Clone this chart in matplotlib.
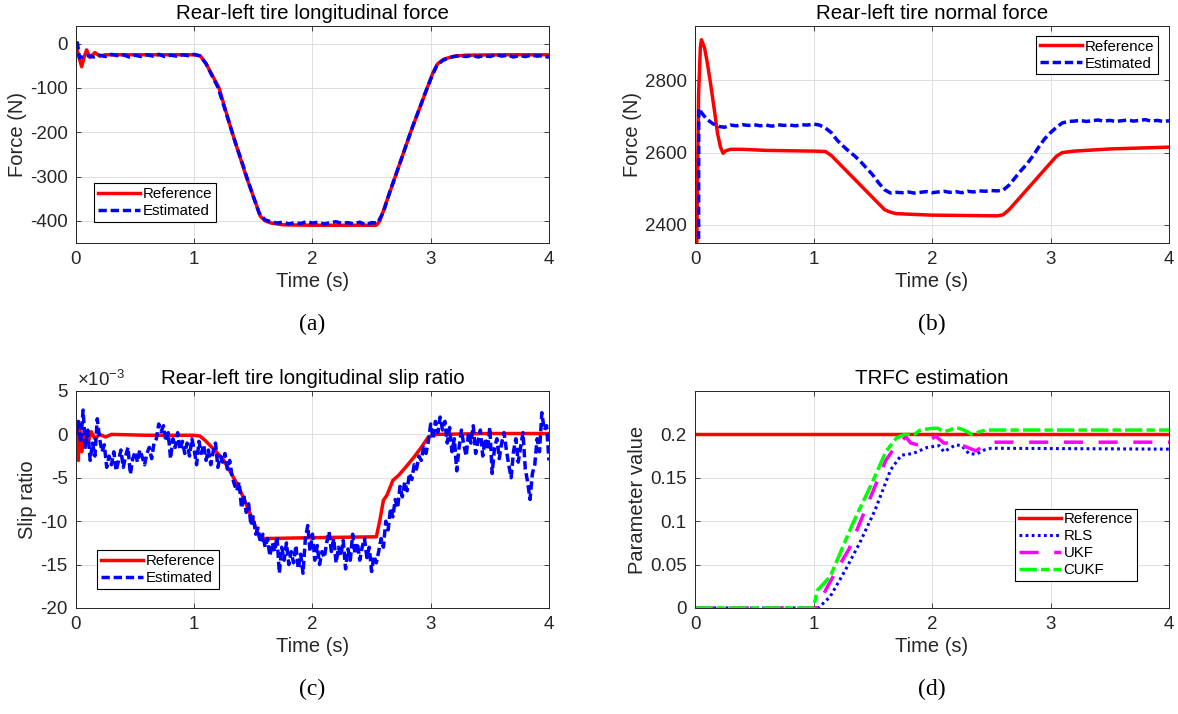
import matplotlib.pyplot as plt
import matplotlib.ticker as ticker
import numpy as np

plt.rcParams['font.family'] = ['Liberation Sans', 'DejaVu Sans']
plt.rcParams['axes.unicode_minus'] = False
plt.rcParams['mathtext.fontset'] = 'custom'
plt.rcParams['mathtext.rm'] = 'Liberation Sans'
plt.rcParams['mathtext.it'] = 'Liberation Sans:italic'

### (a) rear-left longitudinal force (N) ###
fx_ref_t = [0, 0.02, 0.048, 0.07, 0.09, 0.118, 0.16, 0.2, 0.25, 0.5, 0.8, 1.0, 1.05,
            1.1, 1.15, 1.21, 1.32, 1.44, 1.56, 1.6, 1.65, 1.75, 2.0, 2.3, 2.54, 2.57,
            2.7, 2.83, 2.97, 3.02, 3.06, 3.11, 3.2, 3.3, 3.6, 4.0]
fx_ref = [0, -25, -52, -30, -14, -31, -20, -28, -25, -25, -25, -25, -27,
          -45, -70, -100, -200, -300, -390, -400, -405, -409, -410, -410, -410, -400,
          -300, -200, -100, -65, -45, -35, -28, -26, -25, -25]

fx_est_t = [0, 0.012, 0.03] + list(np.round(np.arange(0.05, 4.001, 0.05), 2))
fx_est = [0, 2, -32,
          -30, -27, -30, -26, -29, -24, -27, -25, -30, -26,
          -29, -25, -28, -24, -29, -26, -28, -25, -27, -24,
          -28, -45, -72, -98, -140, -182, -225, -264, -306, -345,
          -383, -398, -402, -405, -403, -407, -404, -406, -402, -405,
          -403, -407, -404, -402, -406, -404, -407, -403, -409, -404,
          -405, -380, -338, -300, -262, -223, -185, -150, -114, -80,
          -50, -38, -32, -29, -27, -29, -26, -30, -27, -29,
          -25, -28, -26, -30, -27, -29, -26, -28, -27, -31]

### (b) rear-left normal force (N) ###
fz_ref_t = [0, 0.015, 0.03, 0.045, 0.054, 0.08, 0.1, 0.127, 0.16, 0.19, 0.215, 0.237,
            0.26, 0.3, 0.4, 0.6, 1.0, 1.1, 1.15, 1.6, 1.65, 1.7, 2.0, 2.55, 2.6,
            2.65, 3.05, 3.1, 3.2, 3.5, 4.0]
fz_ref = [2000, 2350, 2760, 2890, 2912, 2890, 2855, 2800, 2725, 2653, 2615, 2598,
          2605, 2609, 2609, 2606, 2604, 2603, 2592, 2442, 2435, 2431, 2427, 2425, 2428,
          2442, 2590, 2600, 2604, 2610, 2615]

fz_est_t = [0, 0.028, 0.032, 0.06, 0.1, 0.15] + list(np.round(np.arange(0.2, 4.001, 0.05), 2))
fz_est = [2000, 2000, 2722, 2708, 2692, 2680,
          2672, 2670, 2676, 2674, 2677, 2675, 2677, 2674, 2676, 2673,
          2677, 2675, 2676, 2674, 2677, 2676, 2679, 2676, 2668, 2655,
          2634, 2618, 2603, 2590, 2574, 2556, 2538, 2516, 2497, 2488,
          2490, 2489, 2491, 2488, 2490, 2492, 2489, 2491, 2493, 2490,
          2492, 2489, 2493, 2491, 2494, 2493, 2495, 2494, 2496, 2510,
          2530, 2550, 2568, 2590, 2615, 2638, 2655, 2670, 2682, 2686,
          2687, 2689, 2686, 2688, 2690, 2687, 2689, 2686, 2688, 2690,
          2687, 2689, 2691, 2687, 2689, 2686, 2688]

### (c) rear-left longitudinal slip ratio (x1e-3) ###
sr_ref_t = [0, 0.01, 0.02, 0.03, 0.05, 0.07, 0.1, 0.13, 0.16, 0.2, 0.25, 0.3, 0.6,
            1.0, 1.05, 1.1, 1.15, 1.2, 1.25, 1.3, 1.35, 1.4, 1.45, 1.5, 1.55, 1.6,
            2.0, 2.54, 2.57, 2.6, 2.63, 2.68, 2.73, 2.79, 2.86, 2.92, 2.98, 3.05,
            3.5, 4.0]
sr_ref = [0, -2.5, -3.0, 1.0, -2.0, 0.5, -1.0, 0.3, -0.5, 0.0, -0.3, 0.0, -0.1,
          -0.1, -0.2, -0.8, -1.5, -2.2, -3.0, -4.2, -5.4, -6.8, -8.4, -10.0, -11.8, -12.0,
          -11.9, -11.8, -9.9, -7.6, -7.0, -5.3, -4.7, -3.75, -2.6, -1.5, -0.3, 0.0,
          0.1, 0.1]

sr_est_t = np.linspace(0, 4, 201)
sr_est = [0.0, 1.5, -1.0, 2.8, -1.5, 0.5, -3.0, -1.0, -2.5, 1.8,
          -0.5, -2.0, -1.2, -3.8, -2.5, -3.5, -2.0, -4.2, -3.0, -1.8,
          -3.8, -2.5, -1.5, -4.6, -2.8, -2.0, -3.2, -1.8, -2.6, -3.5,
          -2.2, -1.5, -2.8, -1.0, -0.5, 1.2, 0.3, 1.0, -0.8, 0.2,
          -2.8, -0.5, -1.5, 0.2, -1.8, -0.8, -2.2, -1.0, -2.5, -0.5,
          -1.8, -3.5, -0.8, -2.2, -1.2, -3.0, -1.8, -3.5, -2.0, -1.0,
          -3.8, -2.5, -3.2, -2.2, -4.0, -3.0, -4.8, -5.8, -6.5, -5.5,
          -8.5, -7.0, -9.0, -8.0, -10.5, -9.5, -11.5, -10.8, -12.5, -11.5,
          -13.0, -12.0, -14.0, -12.5, -13.5, -11.8, -16.0, -13.0, -14.5, -12.5,
          -15.0, -13.5, -14.8, -12.8, -15.5, -13.8, -16.0, -12.0, -10.5, -13.5,
          -11.5, -14.5, -12.8, -15.0, -13.5, -14.2, -12.5, -11.2, -13.5, -12.0,
          -14.8, -13.0, -14.0, -12.2, -15.5, -13.2, -14.5, -11.5, -13.8, -12.5,
          -14.5, -13.0, -12.0, -14.2, -13.0, -15.8, -14.0, -14.8, -13.5, -12.0,
          -13.0, -10.0, -11.0, -8.5, -9.5, -7.5, -8.5, -6.0, -7.2, -5.5,
          -6.5, -4.5, -5.2, -3.5, -4.0, -2.5, -3.0, -1.5, -2.2, -0.8,
          1.2, -0.5, 1.5, 0.2, 2.0, 0.5, 1.5, -1.0, 0.8, -2.0,
          -0.5, -4.2, -1.5, 0.5, -1.2, -2.5, 0.2, -1.0, 1.0, -2.2,
          -0.8, 0.5, -2.5, -0.5, -1.8, 0.8, -4.5, -1.5, -0.5, -2.8,
          -1.0, 0.2, -1.8, -3.5, -5.0, -2.0, -0.5, -3.2, -1.5, 0.2,
          -4.0, -5.5, -7.5, -4.5, -3.5, -0.5, -2.0, 2.5, 0.5, 1.0,
          -3.0]

### (d) TRFC estimation ###
mu_ref_t = [0, 4]
mu_ref = [0.2, 0.2]
rls_t = [0, 1.04, 1.14, 1.27, 1.39, 1.52, 1.65, 1.74, 1.84, 1.96, 2.06, 2.1, 2.2,
         2.25, 2.31, 2.37, 2.44, 2.5, 4.0]
rls = [0, 0, 0.013, 0.044, 0.075, 0.113, 0.159, 0.176, 0.178, 0.185, 0.187, 0.18, 0.188,
       0.187, 0.178, 0.177, 0.182, 0.184, 0.183]
ukf_t = [0, 1.03, 1.1, 1.2, 1.3, 1.47, 1.61, 1.7, 1.78, 1.82, 1.88, 1.95, 2.03, 2.1,
         2.2, 2.3, 2.37, 2.45, 2.5, 4.0]
ukf = [0, 0, 0.02, 0.045, 0.068, 0.124, 0.17, 0.188, 0.197, 0.19, 0.188, 0.19, 0.198, 0.19,
       0.19, 0.185, 0.181, 0.188, 0.191, 0.191]
cukf_t = [0, 1.0, 1.03, 1.14, 1.33, 1.49, 1.61, 1.7, 1.77, 1.85, 1.9, 2.0, 2.05, 2.1,
          2.15, 2.2, 2.25, 2.3, 2.33, 2.4, 2.45, 4.0]
cukf = [0, 0, 0.02, 0.036, 0.097, 0.143, 0.18, 0.196, 0.2, 0.2, 0.205, 0.207, 0.207, 0.203,
        0.205, 0.208, 0.206, 0.203, 0.2, 0.203, 0.205, 0.205]

frame = '#262626'
gridc = '#dfdfdf'


def style(ax, title, ylabel):
    ax.set_xlim(0, 4)
    ax.set_xticks([0, 1, 2, 3, 4])
    ax.grid(True, color=gridc, linewidth=0.7)
    ax.set_axisbelow(True)
    ax.tick_params(direction='in', length=3.5, width=0.6, top=True, right=True,
                   labelsize=13.5, colors=frame, pad=6)
    for s in ax.spines.values():
        s.set_color(frame)
        s.set_linewidth(0.7)
    ax.set_title(title, fontsize=14.8, color='black', pad=5)
    ax.set_xlabel('Time (s)', fontsize=14.5, color=frame, labelpad=3)
    ax.set_ylabel(ylabel, fontsize=14.5, color=frame, labelpad=2)


def legend(ax, loc, anchor):
    leg = ax.legend(loc=loc, bbox_to_anchor=anchor, fontsize=10.8, handlelength=2.8,
                    handletextpad=0.2, borderpad=0.25, labelspacing=0.2,
                    borderaxespad=0, fancybox=False, framealpha=1, edgecolor='black')
    leg.get_frame().set_linewidth(0.8)


fig = plt.figure(figsize=(11.78, 7.14), dpi=100)

### (a) ###
ax1 = fig.add_axes([0.0645, 0.6597, 0.4015, 0.3039])
ax1.plot(fx_ref_t, fx_ref, color='red', linewidth=2.5, label='Reference')
ax1.plot(fx_est_t, fx_est, color='blue', linewidth=2.5, dashes=(2.4, 1.1), label='Estimated')
ax1.set_ylim(-450, 40)
ax1.set_yticks([0, -100, -200, -300, -400])
style(ax1, 'Rear-left tire longitudinal force', 'Force (N)')
legend(ax1, 'lower left', (0.038, 0.097))

### (b) ###
ax2 = fig.add_axes([0.590, 0.6597, 0.4024, 0.3039])
ax2.plot(fz_ref_t, fz_ref, color='red', linewidth=2.5, label='Reference')
ax2.plot(fz_est_t, fz_est, color='blue', linewidth=2.5, dashes=(2.4, 1.1), label='Estimated')
ax2.set_ylim(2350, 2950)
ax2.set_yticks([2400, 2600, 2800])
style(ax2, 'Rear-left tire normal force', 'Force (N)')
legend(ax2, 'upper right', (0.977, 0.954))

### (c) ###
ax3 = fig.add_axes([0.0645, 0.1485, 0.4015, 0.3039])
ax3.plot(sr_ref_t, np.array(sr_ref) * 1e-3, color='red', linewidth=2.5, label='Reference')
ax3.plot(sr_est_t, np.array(sr_est) * 1e-3, color='blue', linewidth=2.5, dashes=(2.4, 1.1), label='Estimated')
ax3.set_ylim(-0.020, 0.005)
ax3.set_yticks([0.005, 0, -0.005, -0.010, -0.015, -0.020])
ax3.yaxis.set_major_formatter(ticker.FuncFormatter(lambda v, p: '%g' % round(v * 1e3, 6)))
style(ax3, 'Rear-left tire longitudinal slip ratio', 'Slip ratio')
ax3.text(0.003, 1.005, r'$\times$10$^{\mathrm{-3}}$', transform=ax3.transAxes,
         ha='left', va='bottom', fontsize=13.5, color=frame)
legend(ax3, 'lower left', (0.044, 0.088))

### (d) ###
ax4 = fig.add_axes([0.590, 0.1485, 0.4024, 0.3039])
ax4.plot(mu_ref_t, mu_ref, color='red', linewidth=2.5, label='Reference')
ax4.plot(rls_t, rls, color='blue', linewidth=2.2, dashes=(0.9, 1.1), label='RLS')
ax4.plot(ukf_t, ukf, color='magenta', linewidth=2.5, dashes=(5.5, 4.5), label='UKF')
ax4.plot(cukf_t, cukf, color=(0, 1, 0), linewidth=2.5, dashes=(5.0, 1.2, 2.4, 1.2), label='CUKF')
ax4.set_ylim(0, 0.25)
ax4.set_yticks([0, 0.05, 0.1, 0.15, 0.2])
ax4.set_yticklabels(['0', '0.05', '0.1', '0.15', '0.2'])
style(ax4, 'TRFC estimation', 'Parameter value')
legend(ax4, 'lower right', (0.932, 0.124))

### subfigure labels ###
for x, y, s in [(0.265, 0.545, '(a)'), (0.791, 0.545, '(b)'), (0.265, 0.034, '(c)'), (0.791, 0.034, '(d)')]:
    fig.text(x, y, s, ha='center', va='center', fontsize=17, family='Liberation Serif')

fig.savefig('out.png', dpi=100)
